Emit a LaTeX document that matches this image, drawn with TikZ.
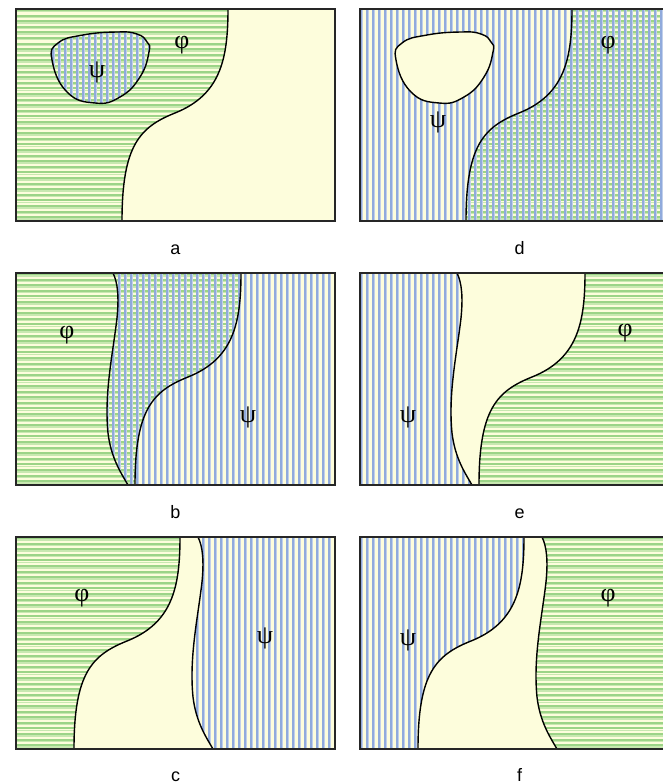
\documentclass[tikz,border=0pt]{standalone}
\usepackage{fontspec}
\setmainfont{Liberation Sans}
\newfontfamily\grk{Liberation Serif}
\definecolor{ylw}{HTML}{FDFDDC}
\definecolor{gdark}{HTML}{9CD487}
\definecolor{glight}{HTML}{C8E8B0}
\definecolor{bdark}{HTML}{90AADC}
\definecolor{blight}{HTML}{C0CFEB}
\tikzset{
  curve/.style={black, line width=1.4pt},
  frame/.style={draw=black!85, line width=1.6pt},
  lbl/.style={font=\fontsize{18}{20}\selectfont, anchor=base, inner sep=0pt},
  grklbl/.style={font=\grk\fontsize{26}{28}\selectfont, inner sep=0pt},
}
\newcommand\HS{\foreach \q in {0,5.6,...,215}{\draw[gdark,line width=1.9pt] (0,\q+1) -- (330,\q+1); \draw[glight,line width=1.4pt] (0,\q+2.8) -- (330,\q+2.8);}}
\newcommand\VS{\foreach \q in {0,6,...,330}{\draw[bdark,line width=2pt] (\q+1,0) -- (\q+1,215); \draw[blight,line width=1pt] (\q+2.5,0) -- (\q+2.5,215);}}
\newcommand\Spath[1]{({212+#1},0) .. controls ({212+#1},51) and ({204+#1},86) .. ({159+#1},104) .. controls ({124+#1},118) and ({106+#1},136) .. ({106+#1},212)}
\newcommand\Wpath[1]{({97+#1},0) .. controls ({102+#1},10) and ({103+#1},25) .. ({101+#1},45) .. controls ({97+#1},80) and ({88+#1},120) .. ({92+#1},160) .. controls ({95+#1},185) and ({105+#1},200) .. ({112+#1},212)}
\newcommand\Blob{plot[smooth cycle,tension=0.8] coordinates {(36,51) (42,34) (67,26) (101,23) (121,25) (131,33) (133,43) (124,68) (104,88) (79,94) (51,83)}}
\begin{document}
\begin{tikzpicture}[x=1pt,y=-1pt]
\useasboundingbox (0,0) rectangle (662,784);
% ---------- panel a ----------
\begin{scope}[shift={(16,9)}]
  \begin{scope}
    \clip (0,0) rectangle (319,212);
    \fill[ylw] (0,0) rectangle (319,212);
    \begin{scope}\clip (0,0) -- \Spath{0} -- (0,212) -- cycle; \HS \end{scope}
    \begin{scope}\clip \Blob; \VS \end{scope}
  \end{scope}
  \draw[curve] \Spath{0};
  \draw[curve] \Blob;
  \draw[frame] (0,0) rectangle (319,212);
\end{scope}
% ---------- panel d ----------
\begin{scope}[shift={(360,9)}]
  \begin{scope}
    \clip (0,0) rectangle (319,212);
    \fill[ylw] (0,0) rectangle (319,212);
    \begin{scope}\clip (319,0) -- \Spath{0} -- (319,212) -- cycle; \HS \end{scope}
    \VS
    \fill[ylw] \Blob;
  \end{scope}
  \draw[curve] \Spath{0};
  \draw[curve] \Blob;
  \draw[frame] (0,0) rectangle (319,212);
\end{scope}
% ---------- panel b ----------
\begin{scope}[shift={(16,273)}]
  \begin{scope}
    \clip (0,0) rectangle (319,212);
    \fill[ylw] (0,0) rectangle (319,212);
    \begin{scope}\clip (0,0) -- \Spath{13} -- (0,212) -- cycle; \HS \end{scope}
    \begin{scope}\clip (319,0) -- \Wpath{0} -- (319,212) -- cycle; \VS \end{scope}
  \end{scope}
  \draw[curve] \Spath{13};
  \draw[curve] \Wpath{0};
  \draw[frame] (0,0) rectangle (319,212);
\end{scope}
% ---------- panel e ----------
\begin{scope}[shift={(360,273)}]
  \begin{scope}
    \clip (0,0) rectangle (319,212);
    \fill[ylw] (0,0) rectangle (319,212);
    \begin{scope}\clip (0,0) -- \Wpath{0} -- (0,212) -- cycle; \VS \end{scope}
    \begin{scope}\clip (319,0) -- \Spath{13} -- (319,212) -- cycle; \HS \end{scope}
  \end{scope}
  \draw[curve] \Spath{13};
  \draw[curve] \Wpath{0};
  \draw[frame] (0,0) rectangle (319,212);
\end{scope}
% ---------- panel c ----------
\begin{scope}[shift={(16,537)}]
  \begin{scope}
    \clip (0,0) rectangle (319,212);
    \fill[ylw] (0,0) rectangle (319,212);
    \begin{scope}\clip (0,0) -- \Spath{-48} -- (0,212) -- cycle; \HS \end{scope}
    \begin{scope}\clip (319,0) -- \Wpath{85} -- (319,212) -- cycle; \VS \end{scope}
  \end{scope}
  \draw[curve] \Spath{-48};
  \draw[curve] \Wpath{85};
  \draw[frame] (0,0) rectangle (319,212);
\end{scope}
% ---------- panel f ----------
\begin{scope}[shift={(360,537)}]
  \begin{scope}
    \clip (0,0) rectangle (319,212);
    \fill[ylw] (0,0) rectangle (319,212);
    \begin{scope}\clip (0,0) -- \Spath{-48} -- (0,212) -- cycle; \VS \end{scope}
    \begin{scope}\clip (319,0) -- \Wpath{85} -- (319,212) -- cycle; \HS \end{scope}
  \end{scope}
  \draw[curve] \Spath{-48};
  \draw[curve] \Wpath{85};
  \draw[frame] (0,0) rectangle (319,212);
\end{scope}
% ---------- Greek labels ----------
\node[grklbl] (phiA) at (182,45) {φ};
\node[grklbl] (psiA) at (97,72) {ψ};
\node[grklbl] (psiD) at (438,122) {ψ};
\node[grklbl] (phiD) at (608,45) {φ};
\node[grklbl] (phiB) at (67,335) {φ};
\node[grklbl] (psiB) at (248,417) {ψ};
\node[grklbl] (psiE) at (408,417) {ψ};
\node[grklbl] (phiE) at (625,333) {φ};
\node[grklbl] (phiC) at (82,598) {φ};
\node[grklbl] (psiC) at (265,638) {ψ};
\node[grklbl] (psiF) at (408,640) {ψ};
\node[grklbl] (phiF) at (608,598) {φ};
% ---------- panel captions ----------
\node[lbl] (labA) at (175.5,254) {a};
\node[lbl] (labD) at (519.5,254) {d};
\node[lbl] (labB) at (175.5,518) {b};
\node[lbl] (labE) at (519.5,518) {e};
\node[lbl] (labC) at (175.5,781) {c};
\node[lbl] (labF) at (519.5,781) {f};
\end{tikzpicture}
\end{document}
